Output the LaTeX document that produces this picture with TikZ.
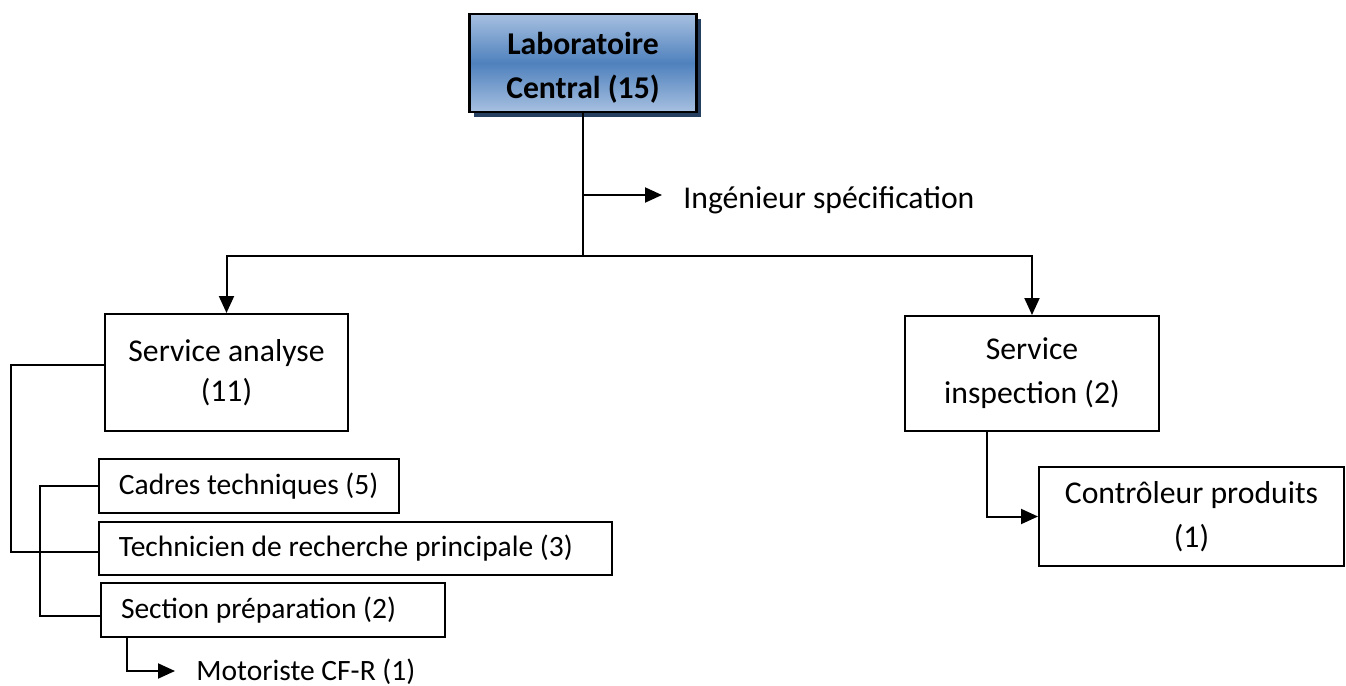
\documentclass[tikz,border=0pt]{standalone}
\usepackage{fontspec}
\setmainfont{Carlito}
\usetikzlibrary{arrows.meta,calc,shadows}
\definecolor{boxblue}{HTML}{4F81BD}
\definecolor{boxlight}{HTML}{A7C0E0}
\definecolor{boxshadow}{HTML}{243F60}
\tikzset{
  link/.style={line width=1pt},
  arr/.style={link,-{Triangle[length=8.5pt,width=7.5pt]}},
  unitbox/.style={draw,line width=1pt,inner sep=0pt,align=flush center,
    font=\fontsize{15.85}{#1}\selectfont},
  unitbox/.default=20,
  rowbox/.style={draw,line width=1pt,inner sep=0pt,inner xsep=10pt,align=flush left,
    font=\fontsize{14.75}{18}\selectfont},
  plain/.style={inner sep=0pt,font=\fontsize{14.75}{18}\selectfont},
  headbox/.style={draw,line width=1.4pt,inner sep=0pt,align=flush center,
    top color=boxlight,bottom color=boxlight,middle color=boxblue,
    font=\fontsize{15.85}{22}\selectfont\bfseries,
    copy shadow={shadow xshift=2pt,shadow yshift=-2.5pt,fill=boxshadow,draw=none}}
}
\begin{document}
\begin{tikzpicture}[x=0.5pt,y=-0.5pt]
\useasboundingbox (0,0) rectangle (1346,686);

% head of the laboratory
\node[headbox,minimum width=113.5pt,minimum height=49pt] (lab) at (583,63)
  {\rule{0pt}{15.5pt}Laboratoire\\Central (15)};

% engineer attached to the head
\node[plain,anchor=base west,font=\fontsize{15.85}{20}\selectfont] (spec) at (683,208)
  {Ingénieur spécification};
\coordinate (specj) at (583,195);
\coordinate (junc) at (583,256);

% the two services
\node[unitbox,minimum width=121.5pt,minimum height=58.5pt] (sa) at (226.5,372.5)
  {Service analyse\\(11)};
\node[unitbox=22,minimum width=127pt,minimum height=57.5pt] (si) at (1032,373.5)
  {Service\\inspection (2)};

% staff of the analysis service
\node[rowbox,text width=130pt,minimum height=27pt] (cadres) at (249,486)
  {\mbox{Cadres techniques (5)}};
\node[rowbox,text width=236.5pt,minimum height=26.5pt] (tech) at (355.5,548.5)
  {\mbox{Technicien de recherche principale (3)}};
\node[rowbox,text width=152pt,minimum height=27pt] (sect) at (273,610)
  {\mbox{Section préparation (2)}};
\node[plain,anchor=base west] (mot) at (196,680) {Motoriste CF-R (1)};

% staff of the inspection service
\node[unitbox=22,minimum width=152.5pt,minimum height=49.5pt] (ctrl) at (1191.5,516.5)
  {Contrôleur produits\\(1)};

% connectors
\draw[link] (lab.south) -- (junc);
\draw[arr,shorten >=10.5pt] (specj) -- (specj -| spec.west);
\draw[arr] (junc) -| (sa.north);
\draw[arr] (junc) -| (si.north);

\draw[link] ($(sa.west)+(0,-7.5)$) -| ($(tech.west)+(-87,3.5)$) -- ($(tech.west)+(0,3.5)$);
\draw[link] (cadres.west) -| ($(sect.west)+(-60,6)$) -- ($(sect.west)+(0,6)$);
\draw[arr,shorten >=10.5pt] ($(sect.south west)+(27,0)$) |- ($(mot.base west)+(0,-9)$);

\draw[arr] ($(si.south)+(-45,0)$) |- (ctrl.west);
\end{tikzpicture}
\end{document}
